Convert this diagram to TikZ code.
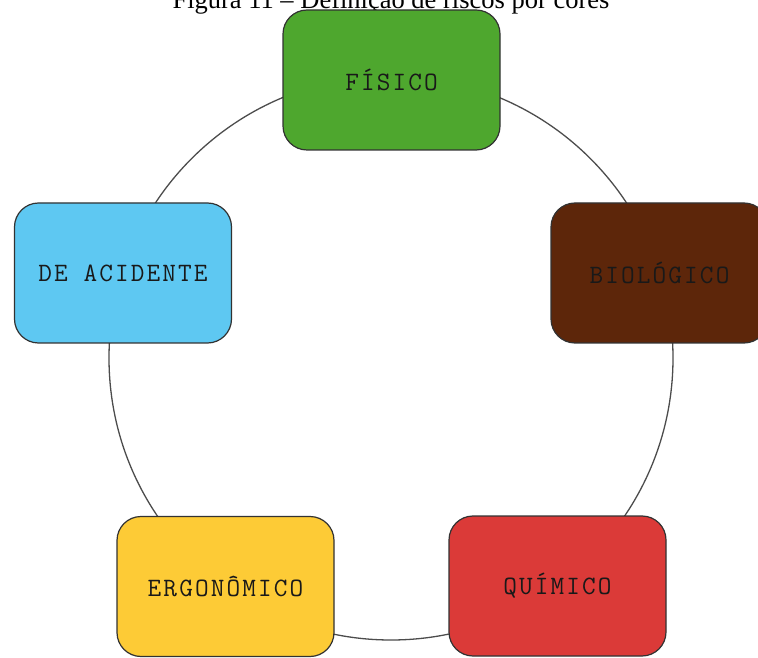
\documentclass[tikz,border=0pt]{standalone}
\usepackage{fontspec}
\setmainfont{Liberation Serif}
\setmonofont[LetterSpace=8]{Latin Modern Mono}
\definecolor{fisGreen}{RGB}{78,167,46}
\definecolor{bioBrown}{RGB}{93,38,10}
\definecolor{aciBlue}{RGB}{94,200,242}
\definecolor{ergYellow}{RGB}{253,203,54}
\definecolor{quiRed}{RGB}{219,58,56}
\definecolor{edgeGray}{RGB}{50,50,50}

\begin{document}
\begin{tikzpicture}[x=1pt,y=1pt,
  risk/.style={rectangle,rounded corners=24pt,draw=edgeGray,line width=1.2pt,
    minimum width=217pt,minimum height=140pt,inner sep=0pt,
    font=\ttfamily\fontsize{26.5}{30}\selectfont,text=black!90}]
\def\cx{391}
\def\cy{299}
\def\rad{282}
\useasboundingbox (0,0) rectangle (758,657);
  %\draw[help lines,step=50] (0,0) grid (758,657);
% title, cut at the top edge
\node[anchor=base,font=\fontsize{26.5}{30}\selectfont] (title) at (391,648) {Figura 11 -- Definição de riscos por cores};

% the ring behind the boxes
\draw[black!70,line width=1.3pt] (\cx,\cy) circle (\rad);

\path
(391.5,577) node [risk,fill=fisGreen] (fisico) {FÍSICO}
(659.5,384) node [risk,fill=bioBrown] (biologico) {BIOLÓGICO}
(123,384) node [risk,fill=aciBlue] (acidente) {DE ACIDENTE}
(225.5,70.5) node [risk,fill=ergYellow] (ergonomico) {ERGONÔMICO}
(557.5,71) node [risk,fill=quiRed] (quimico) {QUÍMICO}
;
\end{tikzpicture}
\end{document}
